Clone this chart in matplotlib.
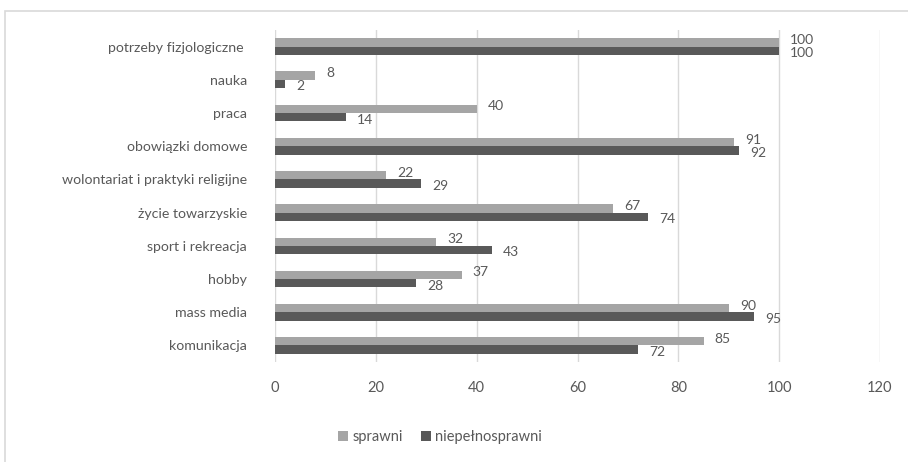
import numpy as np
import matplotlib.pyplot as plt
from matplotlib.patches import Rectangle

plt.rcParams['font.family'] = ['Lato', 'DejaVu Sans']

# categories, bottom to top as drawn
categories = ['komunikacja', 'mass media', 'hobby', 'sport i rekreacja',
              'życie towarzyskie', 'wolontariat i praktyki religijne',
              'obowiązki domowe', 'praca', 'nauka', 'potrzeby fizjologiczne ']
sprawni = [85, 90, 37, 32, 67, 22, 91, 40, 8, 100]
niepelnosprawni = [72, 95, 28, 43, 74, 29, 92, 14, 2, 100]
xticks = [0, 20, 40, 60, 80, 100, 120]

light = '#a5a5a5'
dark = '#595959'
txt = '#595959'

fig = plt.figure(figsize=(9.08, 4.62), dpi=100)
ax = fig.add_axes([275/908, 1 - 362/462, (880-275)/908, (362-30)/462])

# chart border
fig.patches.append(Rectangle((5/908, -0.1), 1.0, 1 - 11/462 + 0.1,
                             transform=fig.transFigure, fill=False,
                             edgecolor='#d9d9d9', linewidth=1.2))

y = np.arange(len(categories))
h = 0.25
ax.barh(y + h/2, sprawni, height=h, color=light, label='sprawni', zorder=3)
ax.barh(y - h/2, niepelnosprawni, height=h, color=dark, label='niepełnosprawni', zorder=3)

# data labels (pulled slightly apart so they do not collide)
for i in range(len(categories)):
    ax.text(sprawni[i] + 2.2, y[i] + 0.2, str(sprawni[i]), va='center', ha='left',
            fontsize=10, color=txt)
    ax.text(niepelnosprawni[i] + 2.2, y[i] - 0.2, str(niepelnosprawni[i]), va='center',
            ha='left', fontsize=10, color=txt)

ax.set_xlim(0, 120)
ax.set_ylim(-0.5, len(categories) - 0.5)
ax.set_xticks(xticks)
ax.set_yticks(y)
ax.set_yticklabels(categories, fontsize=10.2, color=txt)
ax.tick_params(axis='x', labelsize=10.5, labelcolor=txt, length=0, pad=14)
ax.tick_params(axis='y', length=0, pad=20)
ax.grid(axis='x', color='#d9d9d9', linewidth=1, zorder=0)
for s in ax.spines.values():
    s.set_visible(False)

fig.legend(loc='center', bbox_to_anchor=(440/908, 1 - 437/462), ncol=2, frameon=False,
           fontsize=10.5, labelcolor=txt, handlelength=0.7, handleheight=0.7,
           handletextpad=0.3, columnspacing=1.2)

fig.savefig('out.png', dpi=100)
